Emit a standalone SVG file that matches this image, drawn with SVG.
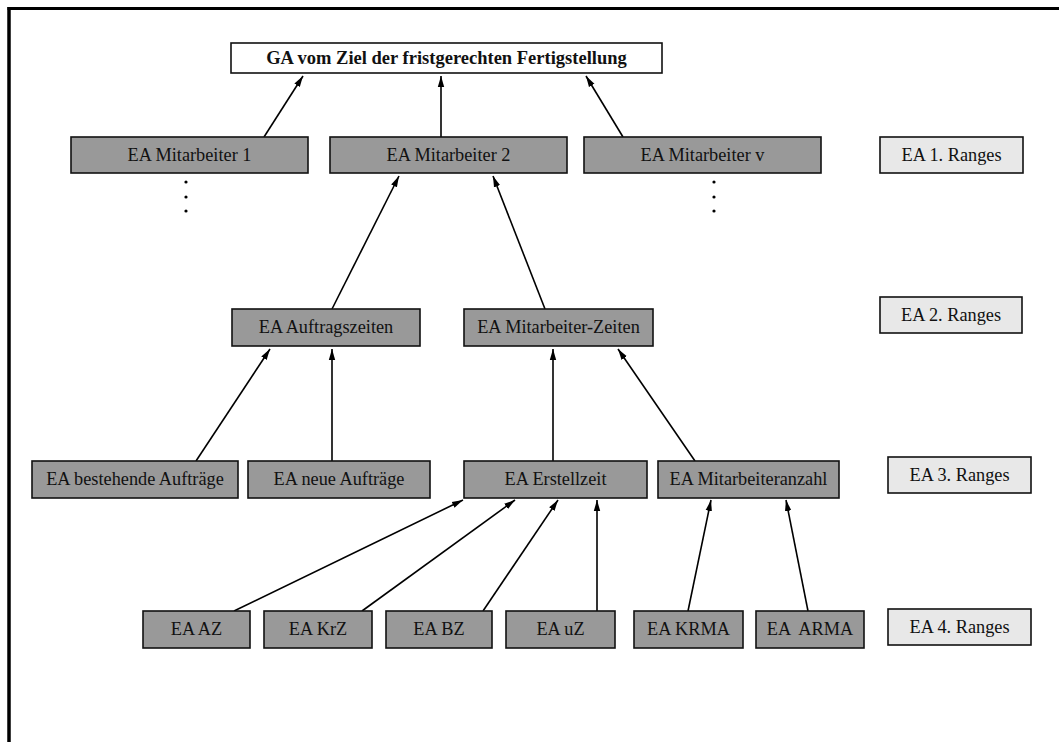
<svg xmlns="http://www.w3.org/2000/svg" width="1059" height="742" viewBox="0 0 1059 742">
<style>
  .n rect { fill: #999999; stroke: #111111; stroke-width: 1.6; }
  .r rect { fill: #e8e8e8; stroke: #111111; stroke-width: 1.6; }
  .g rect { fill: #ffffff; stroke: #111111; stroke-width: 1.6; }
  text { font-family: "Liberation Serif", "Times New Roman", serif; font-size: 18.3px; fill: #111111; text-anchor: middle; }
  .g text { font-weight: bold; font-size: 18.5px; }
  #connectors line { stroke: #000000; stroke-width: 1.6; marker-end: url(#ah); }
  .dot { fill: #000000; }
</style>
<defs>
  <marker id="ah" markerUnits="userSpaceOnUse" markerWidth="11" markerHeight="8" refX="11" refY="4" orient="auto">
    <path d="M0,0.8 L11,4 L0,7.2 z" fill="#000000"/>
  </marker>
</defs>
<rect x="0" y="0" width="1059" height="742" fill="#ffffff"/>
<g id="frame">
  <line x1="7.5" y1="8.5" x2="1059" y2="8.5" stroke="#000" stroke-width="3"/>
  <line x1="9" y1="7" x2="9" y2="742" stroke="#000" stroke-width="3.5"/>
</g>
<g id="connectors">
  <line x1="264" y1="137" x2="303" y2="76"/>
  <line x1="441" y1="137" x2="441" y2="76"/>
  <line x1="623" y1="137" x2="586" y2="76"/>
  <line x1="332" y1="309" x2="399" y2="176"/>
  <line x1="545" y1="309" x2="493" y2="176"/>
  <line x1="196" y1="461" x2="270" y2="349"/>
  <line x1="332" y1="461" x2="332" y2="349"/>
  <line x1="553" y1="461" x2="553" y2="349"/>
  <line x1="695" y1="461" x2="618" y2="349"/>
  <line x1="234" y1="611" x2="463" y2="500"/>
  <line x1="362" y1="611" x2="515" y2="500"/>
  <line x1="483" y1="611" x2="558" y2="500"/>
  <line x1="597" y1="611" x2="597" y2="500"/>
  <line x1="688" y1="611" x2="711" y2="500"/>
  <line x1="808" y1="611" x2="786" y2="500"/>
</g>
<g id="dots">
  <circle class="dot" cx="186" cy="182" r="1.6"/>
  <circle class="dot" cx="186" cy="197" r="1.6"/>
  <circle class="dot" cx="186" cy="211" r="1.6"/>
  <circle class="dot" cx="714" cy="182" r="1.6"/>
  <circle class="dot" cx="714" cy="197" r="1.6"/>
  <circle class="dot" cx="714" cy="211" r="1.6"/>
</g>
<g id="ga" class="g"><rect x="231" y="43" width="431" height="30"/><text x="446.5" y="64">GA vom Ziel der fristgerechten Fertigstellung</text></g>
<g id="ma1" class="n"><rect x="71" y="137" width="237" height="36"/><text x="189.5" y="161">EA Mitarbeiter 1</text></g>
<g id="ma2" class="n"><rect x="330" y="137" width="237" height="36"/><text x="448.5" y="161">EA Mitarbeiter 2</text></g>
<g id="mav" class="n"><rect x="584" y="137" width="237" height="36"/><text x="702.5" y="161">EA Mitarbeiter v</text></g>
<g id="rang1" class="r"><rect x="880" y="137" width="143" height="36"/><text x="951.5" y="161">EA 1. Ranges</text></g>
<g id="auftragszeiten" class="n"><rect x="232" y="309" width="188" height="37"/><text x="326" y="333">EA Auftragszeiten</text></g>
<g id="mitarbeiterzeiten" class="n"><rect x="464" y="309" width="189" height="37"/><text x="558.5" y="333">EA Mitarbeiter-Zeiten</text></g>
<g id="rang2" class="r"><rect x="880" y="297" width="142" height="36"/><text x="951" y="321">EA 2. Ranges</text></g>
<g id="bestehende" class="n"><rect x="32" y="461" width="206" height="37"/><text x="135" y="485">EA bestehende Aufträge</text></g>
<g id="neue" class="n"><rect x="248" y="461" width="182" height="37"/><text x="339" y="485">EA neue Aufträge</text></g>
<g id="erstellzeit" class="n"><rect x="464" y="461" width="183" height="37"/><text x="555.5" y="485">EA Erstellzeit</text></g>
<g id="mitarbeiteranzahl" class="n"><rect x="658" y="461" width="181" height="37"/><text x="748.5" y="485">EA Mitarbeiteranzahl</text></g>
<g id="rang3" class="r"><rect x="888" y="457" width="143" height="36"/><text x="959.5" y="481">EA 3. Ranges</text></g>
<g id="az" class="n"><rect x="143" y="611" width="107" height="37"/><text x="196.5" y="635">EA AZ</text></g>
<g id="krz" class="n"><rect x="264" y="611" width="108" height="37"/><text x="318" y="635">EA KrZ</text></g>
<g id="bz" class="n"><rect x="386" y="611" width="106" height="37"/><text x="439" y="635">EA BZ</text></g>
<g id="uz" class="n"><rect x="506" y="611" width="109" height="37"/><text x="560.5" y="635">EA uZ</text></g>
<g id="krma" class="n"><rect x="634" y="611" width="109" height="37"/><text x="688.5" y="635">EA KRMA</text></g>
<g id="arma" class="n"><rect x="756" y="611" width="108" height="37"/><text x="810" y="635" xml:space="preserve">EA  ARMA</text></g>
<g id="rang4" class="r"><rect x="888" y="609" width="143" height="36"/><text x="959.5" y="633">EA 4. Ranges</text></g>
</svg>
